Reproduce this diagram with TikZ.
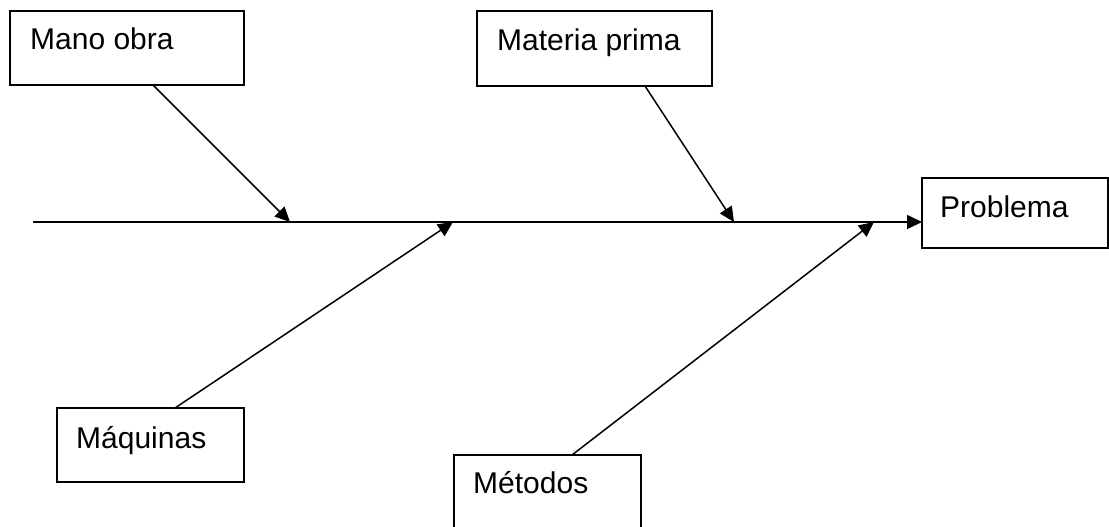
\documentclass[tikz,border=0pt]{standalone}
\usepackage{fontspec}
\setmainfont{Liberation Sans}
\usetikzlibrary{arrows.meta}
\begin{document}
\begin{tikzpicture}[x=1pt,y=-1pt,
  causebox/.style={draw,line width=1.6pt,rectangle,inner sep=0pt,outer sep=0pt,anchor=north west},
  boxtext/.style={anchor=base west,inner sep=0pt,font=\fontsize{30}{36}\selectfont},
  bone/.style={line width=1.5pt,-{Triangle[length=15pt,width=14pt]}}]
\useasboundingbox (0,0) rectangle (1109,527);
\clip (0,0) rectangle (1109,527);
% cause boxes
\node[causebox,minimum width=234pt,minimum height=74pt] (mano) at (10,11) {};
\node[causebox,minimum width=235pt,minimum height=75pt] (materia) at (477,11) {};
\node[causebox,minimum width=186pt,minimum height=70pt] (prob) at (922,178) {};
\node[causebox,minimum width=187pt,minimum height=74pt] (maq) at (57,408) {};
\node[causebox,minimum width=187pt,minimum height=100pt] (met) at (454,455) {};
% labels
\node[boxtext] (tmano) at (30,50) {Mano obra};
\node[boxtext] (tmateria) at (497,51) {Materia prima};
\node[boxtext] (tprob) at (940,217) {Problema};
\node[boxtext] (tmaq) at (76,448) {Máquinas};
\node[boxtext] (tmet) at (473,493) {Métodos};
% spine
\coordinate (tail) at (33,222);
\coordinate (j1) at (290,222);
\coordinate (j2) at (453,222);
\coordinate (j3) at (734,222);
\coordinate (j4) at (874,222);
\draw[bone] (tail) -- (tail -| prob.west);
% cause arrows
\draw[bone] ([xshift=26pt]mano.south) -- (j1);
\draw[bone] ([xshift=24.5pt]maq.north) -- (j2);
\draw[bone] ([xshift=50.5pt]materia.south) -- (j3);
\draw[bone] ([xshift=24.5pt]met.north) -- (j4);
\end{tikzpicture}
\end{document}
